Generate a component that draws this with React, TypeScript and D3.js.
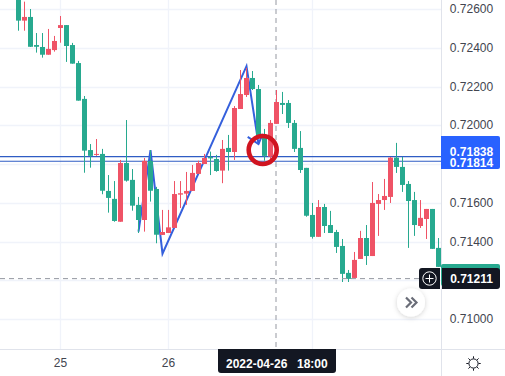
import React from "react";
import * as d3 from "d3";

const opens = [0.72672,0.7254,0.72559,0.72414,0.72404,0.72364,0.72388,0.72502,0.72517,0.72414,0.72321,0.72136,0.71872,0.71847,0.71852,0.71661,0.7162,0.71502,0.71805,0.71718,0.71589,0.71511,0.71816,0.71671,0.71434,0.71444,0.7147,0.71642,0.71647,0.71661,0.71749,0.718,0.71836,0.71826,0.71766,0.71883,0.71862,0.72084,0.72156,0.72244,0.72187,0.7195,0.71838,0.72007,0.72115,0.72115,0.72012,0.71883,0.7178,0.71537,0.71424,0.71578,0.71485,0.71449,0.71377,0.71238,0.71212,0.7131,0.71418,0.71325,0.71594,0.71614,0.7163,0.71833,0.71785,0.71697,0.71614,0.7148,0.71516,0.71568,0.71367];
const closes = [0.7254,0.72559,0.72405,0.72405,0.72364,0.72394,0.72435,0.72517,0.72409,0.72318,0.72127,0.71869,0.71842,0.71852,0.71662,0.71625,0.71506,0.71805,0.71714,0.71585,0.71511,0.71816,0.71662,0.71435,0.71449,0.71473,0.71645,0.71649,0.71661,0.71754,0.71805,0.71831,0.71829,0.71764,0.71878,0.71862,0.72089,0.72161,0.72244,0.72187,0.7195,0.71842,0.72012,0.7212,0.72105,0.72012,0.71878,0.71769,0.71533,0.71424,0.71578,0.7148,0.71444,0.71372,0.71233,0.71207,0.71305,0.71418,0.71325,0.71599,0.71614,0.71635,0.71833,0.71785,0.71692,0.71609,0.71485,0.71522,0.71568,0.71362,0.71269];
const highs = [0.72672,0.72638,0.726,0.72476,0.72476,0.72497,0.72461,0.72564,0.72517,0.72425,0.72332,0.72151,0.71903,0.71929,0.71878,0.71743,0.71712,0.71821,0.72027,0.71774,0.7163,0.71831,0.71872,0.71682,0.71563,0.71563,0.71712,0.71712,0.71759,0.71795,0.71817,0.71852,0.71864,0.71847,0.71924,0.7195,0.72099,0.72285,0.72296,0.7228,0.72208,0.71981,0.72027,0.72182,0.72172,0.7213,0.72027,0.7197,0.7178,0.71599,0.71614,0.71594,0.71558,0.7146,0.71413,0.71253,0.71346,0.71455,0.71485,0.71707,0.71645,0.71723,0.71836,0.71909,0.71836,0.71712,0.71656,0.71614,0.71568,0.71568,0.71418];
const lows = [0.72488,0.72488,0.72404,0.72375,0.72349,0.72364,0.7238,0.72426,0.72327,0.72318,0.72127,0.71755,0.71781,0.71842,0.71644,0.71549,0.71502,0.71502,0.71709,0.71559,0.71444,0.71451,0.71606,0.71391,0.71434,0.71444,0.7147,0.71573,0.71589,0.71661,0.71749,0.718,0.71743,0.7176,0.71701,0.71766,0.71821,0.72084,0.72146,0.72182,0.7195,0.71817,0.71821,0.72007,0.72058,0.71986,0.71862,0.71754,0.71528,0.71415,0.71424,0.71444,0.71444,0.71341,0.71191,0.71191,0.71212,0.7131,0.71279,0.71325,0.71429,0.71563,0.71599,0.71754,0.71656,0.71367,0.71429,0.7147,0.71413,0.71362,0.71269];

const priceTicks = [0.726,0.724,0.722,0.72,0.716,0.714,0.71];
const gridPrices = [0.726,0.724,0.722,0.72,0.718,0.716,0.714,0.712,0.71];
const dayTicks = [{ index: 7, label: "25" }, { index: 25, label: "26" }, { index: 49, label: "" }];
const levelPrices = [0.71838,0.71814];
const levelLabels = ["0.71838","0.71814"];
const lastPrice = 0.71269;
const crosshairIndex = 43;
const crosshairPrice = 0.71211;
const crosshairPriceLabel = "0.71211";
const crosshairTimeDate = "2022-04-26";
const crosshairTimeClock = "18:00";
const zigzagIndex = [20, 22, 24, 38, 40];
const zigzagPrice = [0.71451, 0.71872, 0.71337, 0.72305, 0.71903];
const arrowIndex = [38.2, 40, 40.7];
const arrowPrice = [0.71940, 0.71903, 0.71955];
const markerIndex = 40.7;
const markerPrice = 0.71872;

const W = 505, H = 376, PLOT_R = 441, PLOT_B = 349;
const GREEN = "#27a98f", RED = "#ef5366", DARK = "#131722", BLUE = "#2962ff", LINE = "#3560dc", GRID = "#f0f3fa", BORDER = "#e0e3eb";
const FONT = "'Liberation Sans', Arial, sans-serif";

export default function App() {
  const x = d3.scaleLinear().domain([0, 70]).range([18.5, 438.5]);
  const y = d3.scaleLinear().domain([0.726, 0.71]).range([9, 319]);
  const line = d3.line<number>().x((d) => x(zigzagIndex[d])).y((d) => y(zigzagPrice[d]));
  const arrow = d3.line<number>().x((d) => x(arrowIndex[d])).y((d) => y(arrowPrice[d]));
  const fmt = d3.format(".5f");
  const axisX = (PLOT_R + 500) / 2 + 1;
  return (
    <svg width={W} height={H} viewBox={`0 0 ${W} ${H}`} style={{ position: "fixed", left: 0, top: 0, background: "#fff", fontFamily: FONT }}>
      <defs>
        <clipPath id="plot"><rect x={0} y={0} width={PLOT_R} height={PLOT_B} /></clipPath>
        <filter id="sh" x="-40%" y="-40%" width="180%" height="180%">
          <feDropShadow dx={0} dy={1} stdDeviation={2.5} floodColor="#000" floodOpacity={0.18} />
        </filter>
      </defs>
      {gridPrices.map((p) => (
        <line key={p} x1={0} x2={PLOT_R} y1={Math.round(y(p)) + 0.5} y2={Math.round(y(p)) + 0.5} stroke={GRID} strokeWidth={1.3} />
      ))}
      {dayTicks.map((t) => (
        <line key={t.index} x1={Math.floor(x(t.index)) + 0.5} x2={Math.floor(x(t.index)) + 0.5} y1={0} y2={PLOT_B} stroke={GRID} strokeWidth={1.3} />
      ))}
      <g clipPath="url(#plot)">
        {levelPrices.map((p) => (
          <line key={p} x1={0} x2={PLOT_R} y1={y(p)} y2={y(p)} stroke="#2f5cc4" strokeWidth={1.1} />
        ))}
        <path d={line(d3.range(zigzagIndex.length)) ?? ""} fill="none" stroke={LINE} strokeWidth={2} strokeLinejoin="miter" />
        <path d={arrow(d3.range(arrowIndex.length)) ?? ""} fill="none" stroke={LINE} strokeWidth={2} />
        <line x1={x(crosshairIndex) - 0.5} x2={x(crosshairIndex) - 0.5} y1={0} y2={PLOT_B} stroke="#9598a1" strokeDasharray="5 4" />
        {opens.map((o, i) => {
          const c = closes[i];
          const col = c < o ? GREEN : RED;
          const top = y(Math.max(o, c));
          const bot = y(Math.min(o, c));
          return (
            <g key={i} fill={col}>
              <rect x={x(i) - 0.5} y={y(highs[i])} width={1} height={y(lows[i]) - y(highs[i])} />
              <rect x={x(i) - 2.5} y={top} width={5} height={Math.max(1, bot - top)} />
            </g>
          );
        })}
        <circle cx={x(markerIndex)} cy={y(markerPrice)} r={14} fill="none" stroke="#d01420" strokeWidth={4.6} />
        <line x1={0} x2={419} y1={y(crosshairPrice) + 0.5} y2={y(crosshairPrice) + 0.5} stroke="#9598a1" strokeDasharray="5 4" />
      </g>
      <line x1={PLOT_R + 0.5} x2={PLOT_R + 0.5} y1={0} y2={H} stroke={BORDER} />
      <line x1={0} x2={W} y1={PLOT_B + 0.5} y2={PLOT_B + 0.5} stroke={BORDER} />
      <g fontSize={12} fill="#42454f" textAnchor="middle">
        {priceTicks.map((p) => (
          <text key={p} x={axisX} y={y(p) + 4}>{fmt(p)}</text>
        ))}
      </g>
      <g fontSize={12} fill="#42454f" textAnchor="middle">
        {dayTicks.filter((t) => t.label).map((t) => (
          <text key={t.index} x={x(t.index)} y={367}>{t.label}</text>
        ))}
      </g>
      {/* level tags */}
      <path d="M441 136H498a2 2 0 0 1 2 2V167a2 2 0 0 1 -2 2H441Z" fill={BLUE} />
      {levelLabels.map((l, i) => (
        <text key={l} x={axisX} y={y(levelPrices[i]) + (i === 0 ? -1 : 5.5)} fontSize={12} fontWeight={700} fill="#fff" textAnchor="middle">{l}</text>
      ))}
      {/* last price tag */}
      <rect x={441} y={y(lastPrice) - 3} width={59} height={22} fill={GREEN} rx={2} />
      {/* crosshair price tag */}
      <path d="M442 268H497a3 3 0 0 1 3 3V286a3 3 0 0 1 -3 3H442Z" fill={DARK} />
      <text x={axisX} y={y(crosshairPrice) + 5} fontSize={12} fontWeight={700} fill="#fff" textAnchor="middle">{crosshairPriceLabel}</text>
      <path d="M422 268H440V289H422a3 3 0 0 1 -3 -3V271a3 3 0 0 1 3 -3Z" fill={DARK} />
      <circle cx={429.5} cy={278.5} r={6.7} fill="none" stroke="#fff" strokeWidth={1} />
      <path d="M425.5 278.5H433.5M429.5 274.5V282.5" stroke="#fff" strokeWidth={1} />
      {/* scroll button */}
      <circle cx={411} cy={302.5} r={14} fill="#fff" filter="url(#sh)" />
      <path d="M406 297.5L411 302.5L406 307.5M411.5 297.5L416.5 302.5L411.5 307.5" fill="none" stroke="#6a6d78" strokeWidth={2.2} />
      {/* time tag */}
      <path d="M218 349H336V370a3 3 0 0 1 -3 3H221a3 3 0 0 1 -3 -3Z" fill={DARK} />
      <text x={226} y={368} fontSize={12} fontWeight={700} fill="#fff">{crosshairTimeDate}</text>
      <text x={297} y={368} fontSize={12} fontWeight={700} fill="#fff">{crosshairTimeClock}</text>
      {/* settings sun */}
      <g stroke="#131722" fill="none" strokeWidth={1}>
        <circle cx={473.5} cy={363.5} r={4.6} />
        {d3.range(8).map((k) => {
          const a = (k * Math.PI) / 4;
          return <line key={k} x1={473.5 + 5 * Math.cos(a)} y1={363.5 + 5 * Math.sin(a)} x2={473.5 + 7.2 * Math.cos(a)} y2={363.5 + 7.2 * Math.sin(a)} />;
        })}
      </g>
    </svg>
  );
}
